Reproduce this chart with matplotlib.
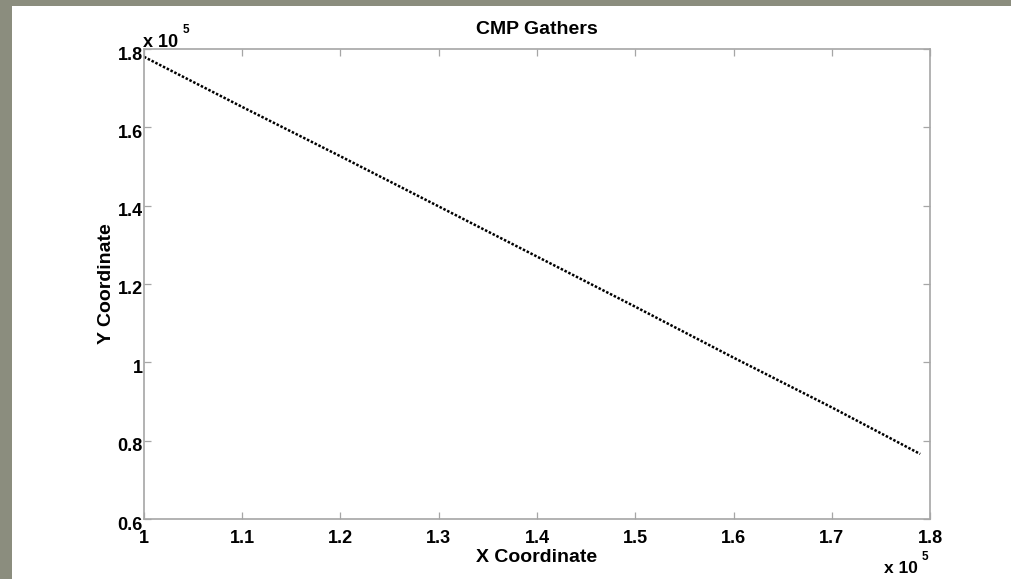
import matplotlib
matplotlib.use("Agg")
import matplotlib.pyplot as plt
from matplotlib.patches import Rectangle
from matplotlib.transforms import ScaledTranslation

# Data (in units of 1e5)
x_coord = [1.00, 1.10, 1.20, 1.30, 1.40, 1.50, 1.60, 1.70, 1.79]
y_coord = [1.780, 1.652, 1.526, 1.398, 1.270, 1.142, 1.012, 0.885, 0.766]
x_ticks = [1.0, 1.1, 1.2, 1.3, 1.4, 1.5, 1.6, 1.7, 1.8]
x_ticklabels = ["1", "1.1", "1.2", "1.3", "1.4", "1.5", "1.6", "1.7", "1.8"]
y_ticks = [0.6, 0.8, 1.0, 1.2, 1.4, 1.6, 1.8]
y_ticklabels = ["0.6", "0.8", "1", "1.2", "1.4", "1.6", "1.8"]

plt.rcParams['font.family'] = ['Liberation Sans', 'DejaVu Sans']
plt.rcParams['font.weight'] = 'bold'

W, H = 1012, 579
fig = plt.figure(figsize=(W / 100, H / 100), dpi=100, facecolor='#8b8d7e')
fig.patches.append(Rectangle((12 / W, 0), 1, (H - 6) / H, transform=fig.transFigure,
                             facecolor='white', edgecolor='none', zorder=-10))

ax = fig.add_axes([144 / W, (H - 519) / H, (930 - 144) / W, (519 - 49) / H])
ax.set_zorder(1)
ax.set_facecolor('white')
ax.plot(x_coord, y_coord, color='black', lw=1.8, linestyle=(0, (1, 0.7)))
ax.set_xlim(1.0, 1.8)
ax.set_ylim(0.6, 1.8)
ax.set_xticks(x_ticks)
ax.set_xticklabels(x_ticklabels)
ax.set_yticks(y_ticks)
ax.set_yticklabels(y_ticklabels)
gray = '#a6a6a6'
for s in ax.spines.values():
    s.set_color(gray)
    s.set_linewidth(1.2)
ax.tick_params(direction='in', length=5, width=0.9, color=gray, top=True, right=True,
               labelsize=13, labelcolor='black')
ax.tick_params(axis='x', pad=8)
ax.tick_params(axis='y', pad=1)
shift = ScaledTranslation(0, -4 / 100, fig.dpi_scale_trans)
for lbl in ax.get_yticklabels():
    lbl.set_transform(lbl.get_transform() + shift)
for lbl in ax.get_xticklabels() + ax.get_yticklabels():
    lbl.set_fontweight('bold')

ax.set_title("CMP Gathers", fontsize=14, fontweight='bold', pad=11)
ax.set_xlabel("X Coordinate", fontsize=14, fontweight='bold', labelpad=1)
ax.set_ylabel("Y Coordinate", fontsize=14, fontweight='bold', labelpad=2)

# MATLAB style exponent labels
fig.text(143 / W, 1 - 47 / H, "x 10", fontsize=13, fontweight='bold', va='baseline', ha='left', zorder=5)
fig.text(183 / W, 1 - 33 / H, "5", fontsize=8.5, fontweight='bold', va='baseline', ha='left', zorder=5)
fig.text(884 / W, 1 - 573 / H, "x 10", fontsize=12.5, fontweight='bold', va='baseline', ha='left', zorder=5)
fig.text(922 / W, 1 - 560 / H, "5", fontsize=8.5, fontweight='bold', va='baseline', ha='left', zorder=5)

fig.savefig("out.png", dpi=100, facecolor=fig.get_facecolor())
